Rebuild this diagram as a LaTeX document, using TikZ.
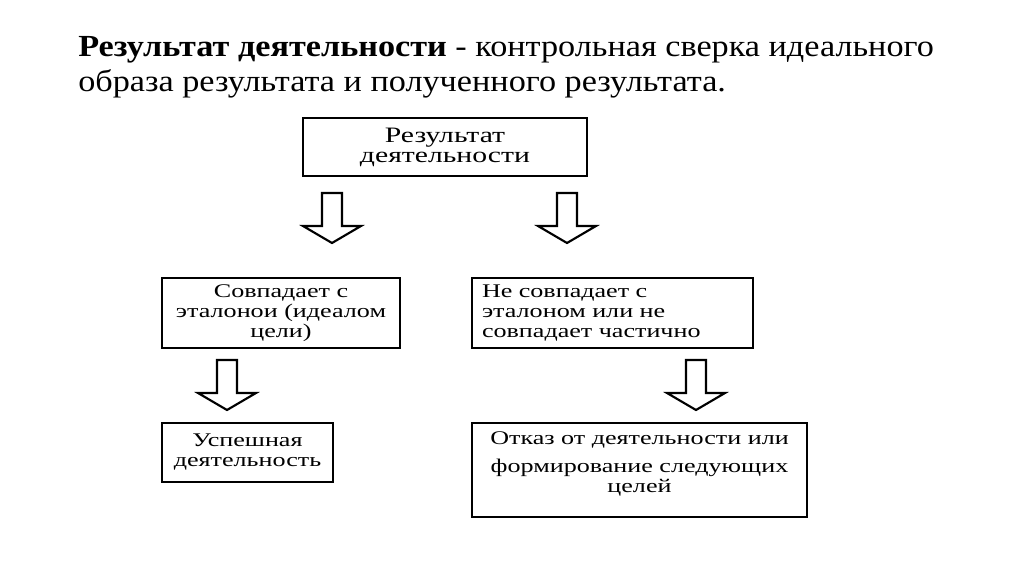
\documentclass[tikz,border=0pt]{standalone}
\usepackage{fontspec}
\setmainfont{Liberation Serif}
\newfontfamily\boxfont[FakeStretch=1.35]{Liberation Serif}
\newfontfamily\headfont[FakeStretch=1.116]{Liberation Serif}
\usetikzlibrary{positioning}

\tikzset{
  box/.style={draw, line width=1.6pt, inner sep=0pt, align=center,
    font=\boxfont\fontsize{14.5}{15}\selectfont},
  heading/.style={anchor=base west, inner sep=0pt,
    font=\headfont\fontsize{23}{26}\selectfont},
  pics/downarrow/.style={code={
    \draw[line width=1.6pt] (-10,0) -- (10,0) -- (10,33) -- (29,33)
      -- (0,50) -- (-29,33) -- (-10,33) -- cycle;
  }}
}

\begin{document}
\begin{tikzpicture}[x=0.75pt,y=-0.75pt]
\useasboundingbox (0,0) rectangle (1024,574);

\node[heading] (title1) at (78,57) {\textbf{Результат деятельности} - контрольная сверка идеального};
\node[heading] (title2) at (78,92) {образа результата и полученного результата.};

\node[box, minimum width=213pt, minimum height=43.5pt,
  font=\boxfont\fontsize{16.5}{15}\selectfont] (result) at (445,147)
  {Результат\\деятельности};
\node[box, minimum width=178.5pt, minimum height=52.5pt] (match) at (281,313)
  {Совпадает с\\эталонои (идеалом\\цели)};
\node[box, align=left, inner xsep=7.5pt, text width=195.75pt,
  minimum height=52.5pt] (nomatch) at (612.5,313)
  {Не совпадает с\\эталоном или не\\совпадает частично};
\node[box, minimum width=128.25pt, minimum height=44.25pt] (success) at (247.5,452.5)
  {Успешная\\деятельность};
\node[box, minimum width=251.25pt, minimum height=70.5pt] (refuse) at (639.5,470) {};
\node[below=7pt of refuse.north, font=\boxfont\fontsize{14.5}{15}\selectfont,
  align=center, inner sep=0pt] (refusetext)
  {Отказ от деятельности или\\[6pt]формирование следующих\\целей};

% block arrows
\pic at (332,193) {downarrow};
\pic at (567,193) {downarrow};
\pic at (227,360) {downarrow};
\pic at (696,360) {downarrow};
\end{tikzpicture}
\end{document}
